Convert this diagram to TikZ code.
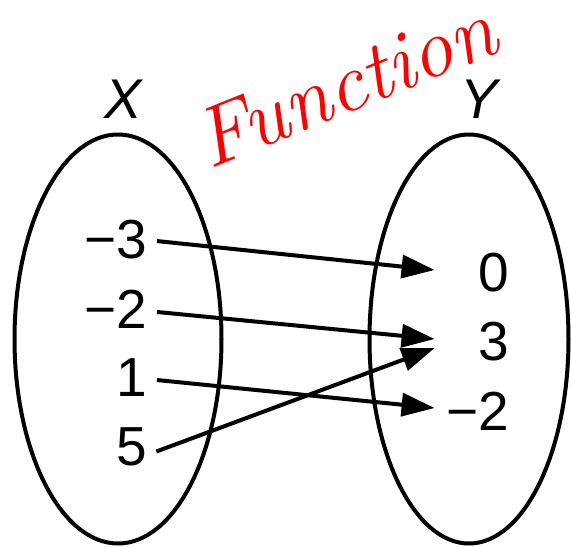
\documentclass[tikz,border=0pt]{standalone}
\usepackage{fontspec}
\newfontfamily\elemfont{Liberation Sans}
\usetikzlibrary{arrows.meta,positioning,shapes.geometric}
\definecolor{Ink}{HTML}{000000}
\definecolor{Pen}{HTML}{FF0000}
\tikzset{setoval/.style={ellipse,draw=Ink,line width=4pt,inner sep=0pt},
  elem/.style={inner sep=0pt,font=\elemfont\fontsize{55}{60}\selectfont,text=Ink},
  dom/.style={elem,anchor=east},
  rng/.style={elem,anchor=east,text width=74pt,align=right},
  setname/.style={elem,font=\elemfont\itshape\fontsize{56}{60}\selectfont},
  mapedge/.style={-{Triangle[length=33pt,width=23pt]},line width=4pt,draw=Ink,
    shorten <=10pt},
  note/.style={text=Pen,font=\rmfamily\itshape\fontsize{84}{86}\selectfont,
    rotate=22,anchor=base,inner sep=0pt}}
\begin{document}
\begin{tikzpicture}[x=1pt,y=-1pt]
    \useasboundingbox (0,0) rectangle (571,547);
    \node[setoval,minimum width=207pt,minimum height=409pt] (setX) at (118,339) {};
    \node[setoval,minimum width=199pt,minimum height=409pt] (setY) at (469,339) {};
    \node[setname] (nameX) at (123,99) {X};
    \node[setname] (nameY) at (479,99) {Y};
    \node[dom] (xa) at (147,240) {−3};
    \node[dom] (xb) at (147,309) {−2};
    \node[dom] (xc) at (147,378) {1};
    \node[dom] (xd) at (147,447) {5};
    \node[rng] (ya) at (509,273) {0};
    \node[rng] (yb) at (509,342) {3};
    \node[rng] (yc) at (509,411) {−2};
    \draw[mapedge] (xa.east) -- ([yshift=3pt]ya.west);
    \draw[mapedge] ([yshift=-2pt]xb.east) -- ([yshift=3pt]yb.west);
    \draw[mapedge] ([yshift=-1pt]xc.east) -- ([yshift=3pt]yc.west);
    \draw[mapedge] ([yshift=-8pt]xd.east) -- ([yshift=-6pt]yb.west);
    \node[note] (tag) at (356,110) {Function};
  \end{tikzpicture}
\end{document}
